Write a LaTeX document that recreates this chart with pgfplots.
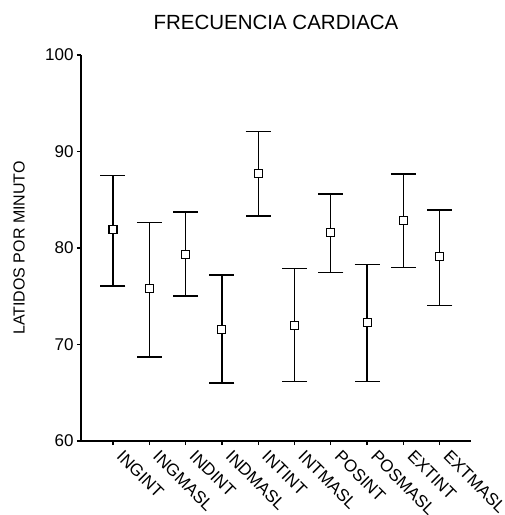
\documentclass[border=0pt]{standalone}
\usepackage{pgfplots}
\pgfplotsset{compat=1.18}
\usepackage{pgfplotstable}
\usepackage{fontspec}
\setmainfont{Liberation Sans}
\pgfplotstableread{
x y ep em
0 81.89 5.64 5.83
1 75.78 6.88 7.08
2 79.34 4.39 4.31
3 71.57 5.63 5.57
4 87.70 4.39 4.38
5 71.98 5.87 5.81
6 81.58 4.02 4.10
7 72.30 6.00 6.13
8 82.83 4.84 4.87
9 79.10 4.84 5.04
}\datatab
\begin{document}
\begin{tikzpicture}
\begin{axis}[
  scale only axis,
  width=390pt, height=386pt,
  xmin=-0.88, xmax=9.86,
  ymin=60, ymax=100,
  axis lines=left,
  axis line style={-, line width=1.3pt},
  tick style={line width=1.3pt, black},
  tick align=outside,
  major tick length=4pt,
  ytick={60,70,80,90,100},
  xtick={0,...,9},
  xticklabels={INGINT,INGMASL,INDINT,INDMASL,INTINT,INTMASL,POSINT,POSMASL,EXTINT,EXTMASL},
  xticklabel style={rotate=-45, anchor=north west, inner sep=0pt, xshift=11pt, yshift=5pt},
  ticklabel style={font=\fontsize{17}{20}\selectfont},
  /pgf/number format/assume math mode=true,
  title={FRECUENCIA CARDIACA},
  title style={at={(0.5,1)}, anchor=base, yshift=20pt, font=\fontsize{20.5}{24}\selectfont},
  ylabel={LATIDOS POR MINUTO},
  ylabel style={at={(axis description cs:0,0.5)}, anchor=center, yshift=62pt, font=\fontsize{16}{19}\selectfont},
  clip=false,
]
\addplot[black, only marks, mark=square*, mark size=4pt,
  mark options={fill=white, line width=1.1pt},
  error bars/.cd, y dir=both, y explicit,
  error bar style={line width=1.3pt, black},
  error mark options={rotate=90, mark size=12.5pt, line width=1.3pt, black}]
  table[x=x, y=y, y error plus=ep, y error minus=em] {\datatab};
\end{axis}
\pgfresetboundingbox
\path (current axis.south west) ++(-81pt,-74pt) rectangle ++(505pt,515pt);
\end{tikzpicture}
\end{document}
